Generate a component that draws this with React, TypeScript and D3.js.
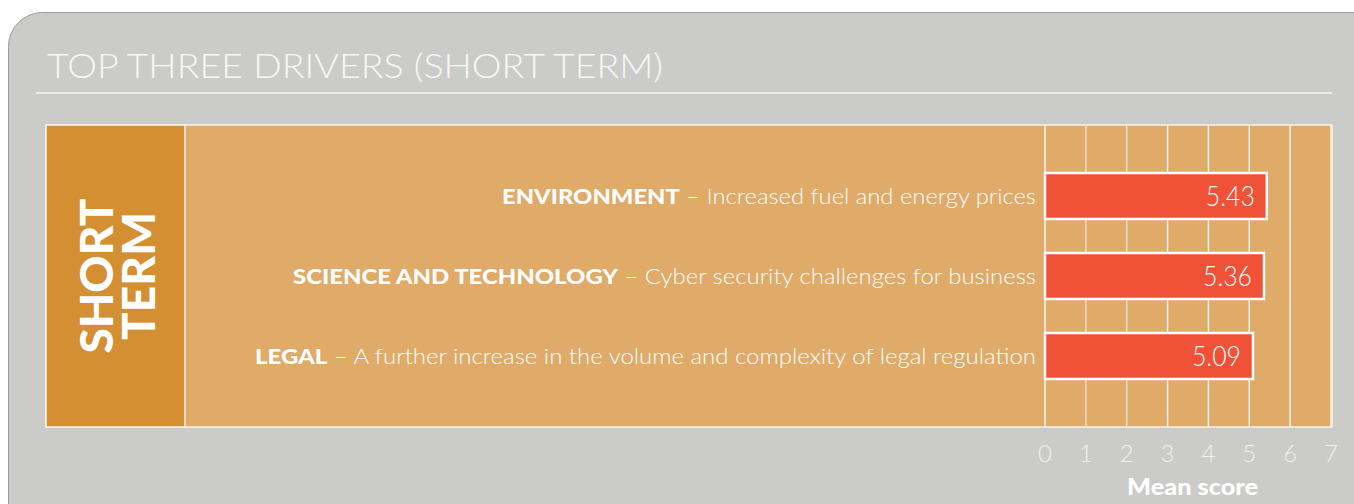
import React from "react";
import * as d3 from "d3";

const categories = ["ENVIRONMENT", "SCIENCE AND TECHNOLOGY", "LEGAL"];
const descriptions = [
  "Increased fuel and energy prices",
  "Cyber security challenges for business",
  "A further increase in the volume and complexity of legal regulation",
];
const values = [5.43, 5.36, 5.09];
const valueLabels = ["5.43", "5.36", "5.09"];
const ticks = [0, 1, 2, 3, 4, 5, 6, 7];
const title = "TOP THREE DRIVERS (SHORT TERM)";
const axisTitle = "Mean score";
const sideLabel = ["SHORT", "TERM"];

const FONT = "Lato, 'Open Sans', sans-serif";

export default function App() {
  const W = 1354, H = 504;
  const panelTop = 125, panelBottom = 427, panelLeft = 46, panelRight = 1332;
  const sideRight = 185;
  const labelRight = 1036;
  const labelStarts = [502, 293, 255];
  const x = d3.scaleLinear().domain([0, 7]).range([1045, 1331]);
  const y = d3.scaleBand().domain(categories).range([156, 396]).paddingInner(0.42).paddingOuter(0.21);
  const bh = 46;
  return (
    <svg width={W} height={H} style={{ position: "absolute", left: 0, top: 0, display: "block" }}>
      <rect x={0} y={0} width={W} height={H} fill="#ffffff" />
      <rect x={8.5} y={12.5} width={1400} height={600} rx={34} ry={34} fill="#cbcbc9" stroke="#9b9b9b" strokeWidth={1} />
      <text x={47} y={78} fill="#f7f7f5" fontFamily={FONT} fontWeight={300} fontSize={33} textLength={616} lengthAdjust="spacingAndGlyphs">{title}</text>
      <line x1={36} x2={1332} y1={93} y2={93} stroke="#f4f4f2" strokeWidth={1.5} />
      <rect x={panelLeft} y={panelTop} width={panelRight - panelLeft} height={panelBottom - panelTop} fill="#e0aa69" stroke="#f7f2ea" strokeWidth={1.5} />
      <rect x={panelLeft} y={panelTop} width={sideRight - panelLeft} height={panelBottom - panelTop} fill="#d48f33" stroke="#f7f2ea" strokeWidth={1.5} />
      <g transform={`translate(${(panelLeft + sideRight) / 2},${(panelTop + panelBottom) / 2}) rotate(-90)`}>
        {sideLabel.map((s, i) => (
          <text key={s} x={0} y={i === 0 ? -3 : 39} textAnchor="middle" fill="#ffffff" fontFamily={FONT} fontWeight={900} fontSize={46}>{s}</text>
        ))}
      </g>
      {ticks.map((t) => (
        <line key={"g" + t} x1={x(t)} x2={x(t)} y1={panelTop} y2={panelBottom} stroke={t === 1 || t === 2 ? "#f3dfc6" : "#fbf6ef"} strokeWidth={1.5} />
      ))}
      {categories.map((c, i) => {
        const yc = (y(c) as number) + y.bandwidth() / 2;
        return (
          <g key={c}>
            <rect x={x(0)} y={yc - bh / 2} width={x(values[i]) - x(0)} height={bh} fill="#f05237" stroke="#ffffff" strokeWidth={2.5} />
            <text x={x(values[i]) - 12} y={yc + 10} textAnchor="end" fill="#ffffff" fontFamily={FONT} fontWeight={300} fontSize={27.5} textLength={49} lengthAdjust="spacingAndGlyphs">{valueLabels[i]}</text>
            <text x={labelStarts[i]} y={yc + 8} fill="#ffffff" fontFamily={FONT} fontSize={21.5} textLength={labelRight - labelStarts[i]} lengthAdjust="spacingAndGlyphs">
              <tspan fontWeight={900}>{c}</tspan>
              <tspan fontWeight={300}>{" \u2013 " + descriptions[i]}</tspan>
            </text>
          </g>
        );
      })}
      {ticks.map((t) => (
        <text key={"t" + t} x={x(t)} y={462} textAnchor="middle" fill="#f2f1ec" fontFamily={FONT} fontWeight={300} fontSize={24}>{t}</text>
      ))}
      <text x={1127} y={495} fill="#ffffff" fontFamily={FONT} fontWeight={900} fontSize={22} textLength={131} lengthAdjust="spacingAndGlyphs">{axisTitle}</text>
    </svg>
  );
}
